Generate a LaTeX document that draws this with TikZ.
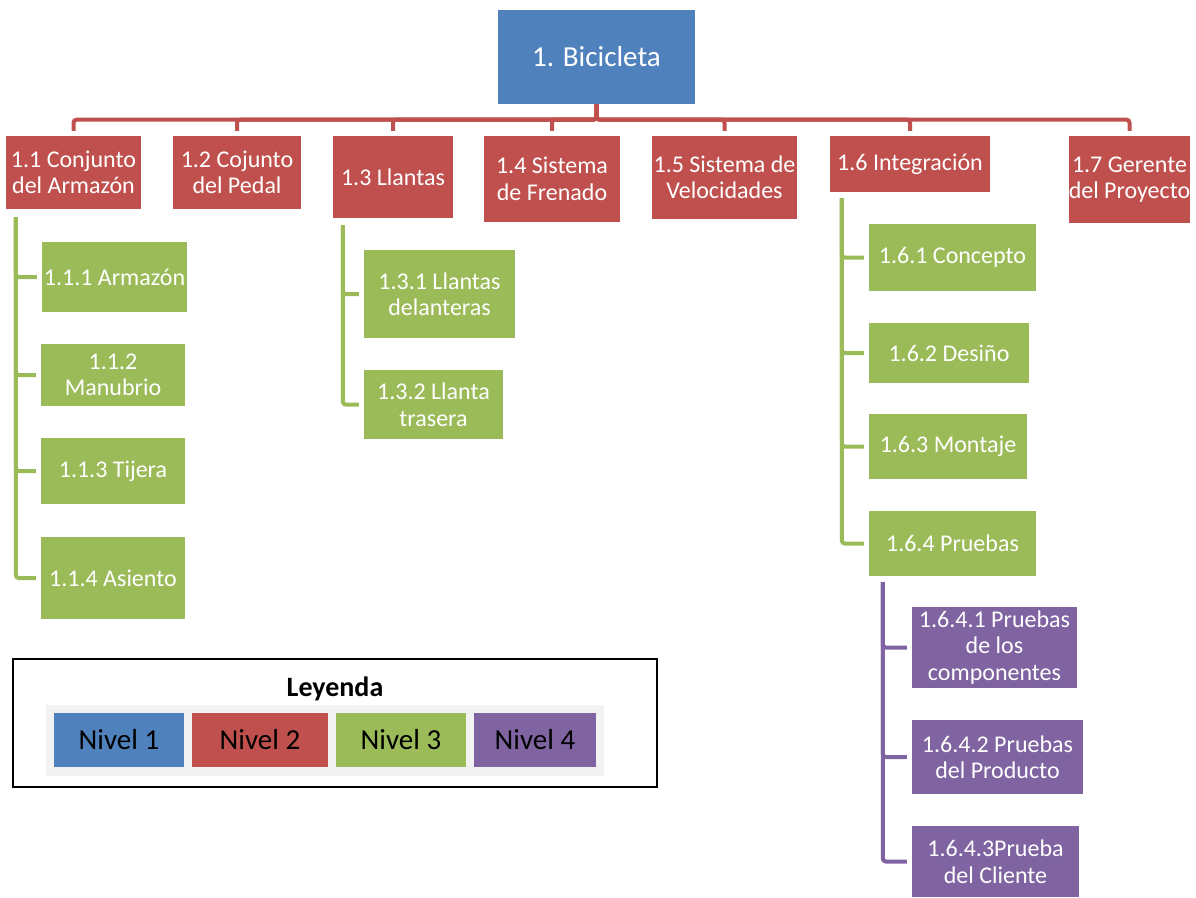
\documentclass[tikz,border=0pt]{standalone}
\usepackage{fontspec}
\setmainfont{Carlito}
\usepackage{xcolor}
\usepackage{tikz}
\usetikzlibrary{calc}
\definecolor{nivelazul}{HTML}{4F81BD}
\definecolor{nivelrojo}{HTML}{C0504D}
\definecolor{nivelverde}{HTML}{9BBB59}
\definecolor{nivelmorado}{HTML}{8064A2}
\definecolor{grisfondo}{HTML}{F2F2F2}
\tikzset{
  caja/.style={inner sep=0pt,align=center,text=white,font=\fontsize{24}{26.5}\selectfont},
  nivuno/.style={caja,fill=nivelazul,font=\fontsize{29}{31}\selectfont},
  nivdos/.style={caja,fill=nivelrojo},
  nivtres/.style={caja,fill=nivelverde},
  nivcuatro/.style={caja,fill=nivelmorado},
  enlace/.style={line width=4pt,rounded corners=3pt,shorten >=5pt},
  muestra/.style={inner sep=0pt,minimum height=54,text=black,font=\fontsize{29}{31}\selectfont}
}

\begin{document}
\begin{tikzpicture}[x=1pt,y=-1pt]
\useasboundingbox (0,0) rectangle (1196,897);
\node[nivuno,minimum width=197,minimum height=94] (bic) at (596.5,57) {1. Bicicleta};
\node[nivdos,minimum width=135,minimum height=73] (c11) at (73.5,172.5) {1.1 Conjunto\\del Armazón};
\node[nivdos,minimum width=128,minimum height=73] (c12) at (237,172.5) {1.2 Cojunto\\del Pedal};
\node[nivdos,minimum width=120,minimum height=82] (c13) at (393,177) {1.3 Llantas};
\node[nivdos,minimum width=136,minimum height=86] (c14) at (552,179) {1.4 Sistema\\de Frenado};
\node[nivdos,minimum width=145,minimum height=83] (c15) at (724.5,177.5) {1.5 Sistema de\\Velocidades};
\node[nivdos,minimum width=160,minimum height=56] (c16) at (910,164) {1.6 Integración};
\node[nivdos,minimum width=117,minimum height=87] (c17) at (1129.5,179.5) {1.7 Gerente\\del Proyecto};
\node[nivtres,minimum width=145,minimum height=70] (c111) at (114.5,277) {1.1.1 Armazón};
\node[nivtres,minimum width=144,minimum height=62] (c112) at (113,375) {1.1.2\\Manubrio};
\node[nivtres,minimum width=144,minimum height=66] (c113) at (113,471) {1.1.3 Tijera};
\node[nivtres,minimum width=144,minimum height=82] (c114) at (113,578) {1.1.4 Asiento};
\node[nivtres,minimum width=151,minimum height=88] (c131) at (439.5,294) {1.3.1 Llantas\\delanteras};
\node[nivtres,minimum width=139,minimum height=69] (c132) at (433.5,404.5) {1.3.2 Llanta\\trasera};
\node[nivtres,minimum width=167,minimum height=67] (c161) at (952.5,257.5) {1.6.1 Concepto};
\node[nivtres,minimum width=160,minimum height=60] (c162) at (949,353) {1.6.2 Desiño};
\node[nivtres,minimum width=158,minimum height=65] (c163) at (948,446.5) {1.6.3 Montaje};
\node[nivtres,minimum width=167,minimum height=65] (c164) at (952.5,543.5) {1.6.4 Pruebas};
\node[nivcuatro,minimum width=165,minimum height=81] (c1641) at (994.5,647.5) {1.6.4.1 Pruebas\\de los\\componentes};
\node[nivcuatro,minimum width=171,minimum height=74] (c1642) at (997.5,757) {1.6.4.2 Pruebas\\del Producto};
\node[nivcuatro,minimum width=167,minimum height=71] (c1643) at (995.5,861.5) {1.6.4.3Prueba\\del Cliente};
\foreach \c in {c11,c12,c13,c14,c15,c16,c17}
  \draw[enlace,nivelrojo] (bic.south) -- ++(0,15.5) -| (\c.north);
\foreach \c in {c111,c112,c113,c114}
  \draw[enlace,nivelverde] ($(c11.south west)+(10,8)$) |- (\c.west);
\foreach \c in {c131,c132}
  \draw[enlace,nivelverde] ($(c13.south west)+(10,7)$) |- (\c.west);
\foreach \c in {c161,c162,c163,c164}
  \draw[enlace,nivelverde] ($(c16.south west)+(12,6)$) |- (\c.west);
\foreach \c in {c1641,c1642,c1643}
  \draw[enlace,nivelmorado] ($(c164.south west)+(14,6)$) |- (\c.west);
\node[draw=black,line width=1.5pt,minimum width=644,minimum height=128,inner sep=0pt] (leyenda) at (335,723) {};
\node[font=\fontsize{28}{30}\selectfont\bfseries] (titulo) at (335,689) {Leyenda};
\node[fill=grisfondo,minimum width=558,minimum height=71,inner sep=0pt] (panel) at (325,740.5) {};
\node[muestra,fill=nivelazul,minimum width=130] (n1) at (119,740) {Nivel 1};
\node[muestra,fill=nivelrojo,minimum width=136] (n2) at (260,740) {Nivel 2};
\node[muestra,fill=nivelverde,minimum width=130] (n3) at (401,740) {Nivel 3};
\node[muestra,fill=nivelmorado,minimum width=122] (n4) at (535,740) {Nivel 4};
\end{tikzpicture}
\end{document}
